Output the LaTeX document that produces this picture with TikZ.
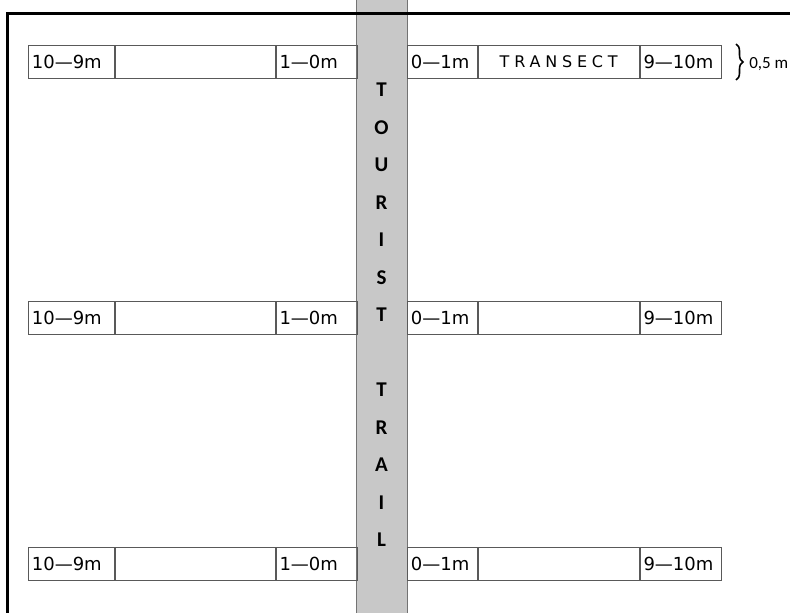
\documentclass[tikz,border=0pt]{standalone}
\usepackage{fontspec}
\setmainfont{DejaVu Sans}
\newfontfamily\trailfont{Carlito}
\newfontfamily\spacedfont[LetterSpace=30]{DejaVu Sans}
\usetikzlibrary{positioning, decorations.pathreplacing}
\definecolor{trailgray}{RGB}{200,200,200}

\begin{document}
\begin{tikzpicture}[x=1pt, y=-1pt, node distance=37.5pt, semithick]

  \tikzstyle{cell}=[draw=black!65, line width=0.8pt, minimum height=33pt, inner xsep=3.5pt, inner ysep=0pt, align=left, font=\fontsize{18}{20}\selectfont]
  \tikzstyle{letter}=[font=\trailfont\bfseries\fontsize{21}{23}\selectfont, inner sep=0pt]

  \useasboundingbox (0,0) rectangle (790,613);

  % trail
  \fill[trailgray] (356,0) rectangle (407,613);
  \draw[black!55, line width=0.8pt] (356,0) -- (356,613) (407,0) -- (407,613);

  \node[letter] (t1) at (381.5,90) {T};
  \node[letter] (t2) [below of=t1] {O};
  \node[letter] (t3) [below of=t2] {U};
  \node[letter] (t4) [below of=t3] {R};
  \node[letter] (t5) [below of=t4] {I};
  \node[letter] (t6) [below of=t5] {S};
  \node[letter] (t7) [below of=t6] {T};
  \node[letter] (t8) at (381.5,390) {T};
  \node[letter] (t9) [below of=t8] {R};
  \node[letter] (t10) [below of=t9] {A};
  \node[letter] (t11) [below of=t10] {I};
  \node[letter] (t12) [below of=t11] {L};

  % frame
  \draw[line width=3pt] (790,13) -- (7,13) -- (7,613);

  % left transects
  \node[cell, text width=79pt, anchor=west] (l1a) at (28,62) {10—9m};
  \node[cell, text width=153pt, right=0pt of l1a] (l1b) {};
  \node[cell, text width=74pt, right=0pt of l1b] (l1c) {1—0m};
  \node[cell, text width=79pt, anchor=west] (l2a) at (28,318) {10—9m};
  \node[cell, text width=153pt, right=0pt of l2a] (l2b) {};
  \node[cell, text width=74pt, right=0pt of l2b] (l2c) {1—0m};
  \node[cell, text width=79pt, anchor=west] (l3a) at (28,564) {10—9m};
  \node[cell, text width=153pt, right=0pt of l3a] (l3b) {};
  \node[cell, text width=74pt, right=0pt of l3b] (l3c) {1—0m};

  % right transects
  \node[cell, text width=63pt, anchor=west] (r1a) at (407,62) {0—1m};
  \node[cell, text width=154pt, align=center, right=0pt of r1a] (r1b) {\spacedfont\fontsize{16}{18}\selectfont TRANSECT};
  \node[cell, text width=74pt, right=0pt of r1b] (r1c) {9—10m};
  \node[cell, text width=63pt, anchor=west] (r2a) at (407,318) {0—1m};
  \node[cell, text width=154pt, right=0pt of r2a] (r2b) {};
  \node[cell, text width=74pt, right=0pt of r2b] (r2c) {9—10m};
  \node[cell, text width=63pt, anchor=west] (r3a) at (407,564) {0—1m};
  \node[cell, text width=154pt, right=0pt of r3a] (r3b) {};
  \node[cell, text width=74pt, right=0pt of r3b] (r3c) {9—10m};

  % width of the transect
  \coordinate (btop) at (736,44);
  \coordinate (bbot) at (736,80);
  \draw[line width=1.6pt, decorate, decoration={brace, amplitude=7pt}] (btop) -- (bbot);
  \node[anchor=west, font=\trailfont\fontsize{17}{19}\selectfont, inner sep=0pt] (width) at (749,64) {0,5 m};

\end{tikzpicture}
\end{document}
